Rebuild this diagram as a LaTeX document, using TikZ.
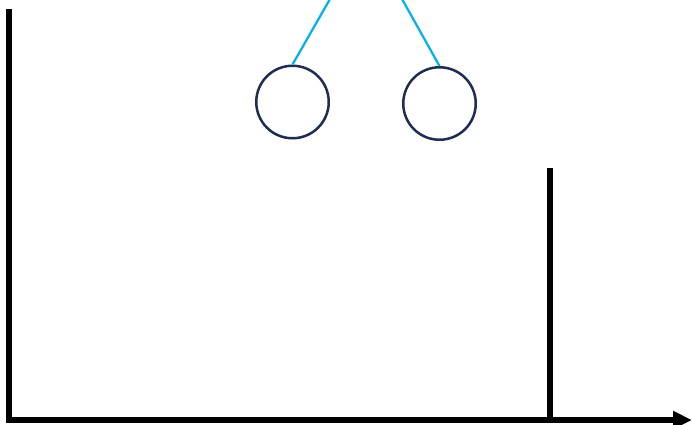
\documentclass[tikz,border=0pt]{standalone}
\usepackage{tikz}
\usetikzlibrary{arrows.meta}
\definecolor{navy}{HTML}{1F2D50}
\definecolor{cord}{HTML}{00B0F0}

\begin{document}
\begin{tikzpicture}[x=1pt,y=-1pt,
  axis/.style={line width=6pt,black},
  ball/.style={circle,draw=navy,line width=2.5pt,minimum size=72.5pt,inner sep=0pt},
  string/.style={cord,line width=2.2pt}]
  \useasboundingbox (0,0) rectangle (692,424);
  % Axes and wall
  \coordinate (T) at (9,9);
  \coordinate (O) at (9,420);
  \coordinate (X) at (692,420);
  \coordinate (W) at (550,168);
  \coordinate (Wb) at (550,420);
  \draw[axis] (T) -- ([yshift=3pt]O);
  \draw[axis,-{Triangle[length=19pt,width=17pt]}] ([xshift=-3pt]O) -- (X);
  \draw[axis] (W) -- (Wb);
  % Balls hanging on strings
  \node[ball] (B1) at (292.5,102) {};
  \node[ball] (B2) at (439.5,103.5) {};
  \coordinate (S1) at (330,-1);
  \coordinate (S2) at (402,-1);
  \draw[string] (B1.north) -- (S1);
  \draw[string] (B2.north) -- (S2);
\end{tikzpicture}
\end{document}
